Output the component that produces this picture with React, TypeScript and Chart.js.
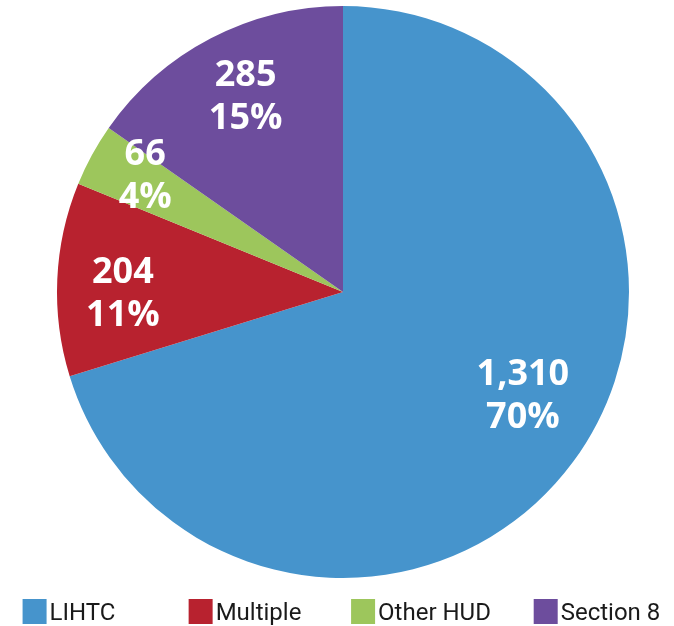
import React, { useEffect, useRef } from "react";
import { Chart, registerables } from "chart.js";

Chart.register(...registerables);

const categories = ["LIHTC", "Multiple", "Other HUD", "Section 8"];
const counts = [1310, 204, 66, 285];
const colors = ["#4694CC", "#B8222F", "#9DC65C", "#6D4D9D"];

// small visual nudges of the in-slice labels (px), relative to the slice bisector point
const labelNudges = [
  [5, -25],
  [-3, 11],
  [-7, -12],
  [3, -2],
];

const sliceLabels = {
  id: "sliceLabels",
  afterDatasetsDraw(chart: any) {
    const ctx = chart.ctx;
    const meta = chart.getDatasetMeta(0);
    const data = chart.data.datasets[0].data as number[];
    const total = data.reduce((a, b) => a + b, 0);
    ctx.save();
    ctx.fillStyle = "#ffffff";
    ctx.textAlign = "center";
    ctx.textBaseline = "middle";
    ctx.font = "bold 36px 'Open Sans', sans-serif";
    meta.data.forEach((arc: any, i: number) => {
      const p = arc.getProps(["x", "y", "startAngle", "endAngle", "outerRadius"], true);
      const mid = (p.startAngle + p.endAngle) / 2;
      const r = p.outerRadius * 0.76;
      const x = p.x + Math.cos(mid) * r + labelNudges[i][0];
      const y = p.y + Math.sin(mid) * r + labelNudges[i][1];
      const v = data[i];
      const pct = Math.round((v / total) * 100) + "%";
      ctx.fillText(v.toLocaleString("en-US"), x, y - 21);
      ctx.fillText(pct, x, y + 22);
    });
    ctx.restore();
  },
};

const bottomLegend = {
  id: "bottomLegend",
  afterDraw(chart: any) {
    const ctx = chart.ctx;
    const ds = chart.data.datasets[0];
    const labels = chart.data.labels as string[];
    ctx.save();
    ctx.font = "24px Roboto, sans-serif";
    ctx.textBaseline = "alphabetic";
    ctx.textAlign = "left";
    const box = 24;
    const gap = 3;
    const colW = 176;
    const center = 333;
    const top = 599;
    labels.forEach((l, i) => {
      const w = box + gap + ctx.measureText(l).width;
      const cx = center + (i - (labels.length - 1) / 2) * colW;
      const x = cx - w / 2;
      ctx.fillStyle = ds.backgroundColor[i];
      ctx.fillRect(x, top, box, 25);
      ctx.fillStyle = "#1a1a1a";
      ctx.fillText(l, x + box + gap, 620);
    });
    ctx.restore();
  },
};

export default function App() {
  const ref = useRef<HTMLCanvasElement>(null);
  useEffect(() => {
    document.body.style.margin = "0";
    const chart = new Chart(ref.current!, {
      type: "pie",
      data: {
        labels: categories,
        datasets: [
          {
            data: counts,
            backgroundColor: colors,
            borderWidth: 0,
          },
        ],
      },
      options: {
        animation: false,
        responsive: false,
        layout: { padding: { left: 57, right: 45, top: 6, bottom: 48 } },
        plugins: {
          legend: { display: false },
          tooltip: { enabled: false },
        },
      },
      plugins: [sliceLabels, bottomLegend],
    });
    return () => chart.destroy();
  }, []);
  return (
    <canvas ref={ref} width={674} height={626} style={{ display: "block" }} />
  );
}
